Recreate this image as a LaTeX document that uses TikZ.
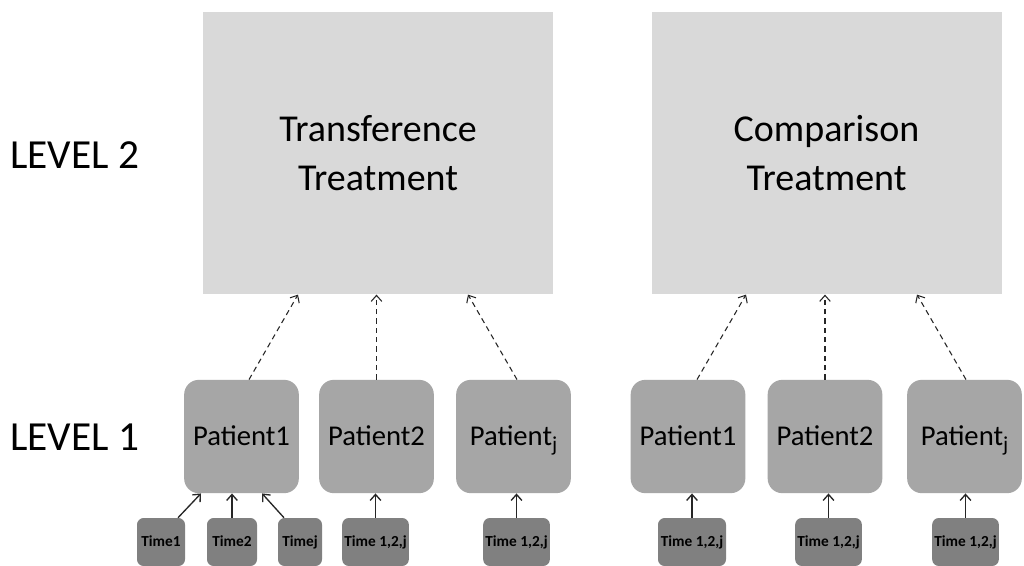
\documentclass[tikz,border=0pt]{standalone}
\usepackage{fontspec}
\setmainfont{Carlito}
\usetikzlibrary{arrows.meta}
\newcommand{\subj}{\raisebox{-0.45ex}{\fontsize{16}{18}\selectfont j}}
\begin{document}
\begin{tikzpicture}[x=0.75pt,y=-0.75pt,
  bigbox/.style={fill=black!15,draw=none,minimum width=262.5pt,minimum height=212pt,inner sep=0pt,align=center,font=\fontsize{28.5}{37}\selectfont},
  patbox/.style={fill=black!35,draw=none,rounded corners=11pt,minimum width=86pt,minimum height=85pt,inner sep=0pt,text height=14pt,text depth=1pt,font=\fontsize{21.5}{24}\selectfont},
  timebox/.style={fill=black!50,draw=none,rounded corners=5pt,minimum height=36pt,inner sep=0pt,text height=8pt,text depth=2pt,font=\bfseries\fontsize{11.5}{13}\selectfont},
  lvl/.style={font=\fontsize{31}{36}\selectfont,anchor=west,inner sep=0pt},
  solidarr/.style={-{Straight Barb[length=4.5pt,width=8pt]},line width=1pt,black!85},
  dasharr/.style={-{Straight Barb[length=4.5pt,width=8pt]},line width=0.8pt,dash pattern=on 4pt off 3pt,black!85}]
\useasboundingbox (0,0) rectangle (1024,565);
\fill[white] (0,0) rectangle (1024,565);
\node[lvl] (l2) at (10,155) {LEVEL 2};
\node[lvl] (l1) at (10,437) {LEVEL 1};
\node[bigbox] (tt) at (378,153) {Transference\\Treatment};
\node[bigbox] (ct) at (826.5,153) {Comparison\\Treatment};
% patients
\node[patbox] (p1) at (241.5,436.5) {Patient1};
\node[patbox] (p2) at (376.5,436.5) {Patient2};
\node[patbox] (pj) at (513.5,436.5) {Patient\subj};
\node[patbox] (q1) at (688,436.5) {Patient1};
\node[patbox] (q2) at (825,436.5) {Patient2};
\node[patbox] (qj) at (964.5,436.5) {Patient\subj};
% times
\node[timebox,minimum width=36pt] (t1) at (161,542) {Time1};
\node[timebox,minimum width=37.5pt] (t2) at (232,542) {Time2};
\node[timebox,minimum width=33pt] (tj) at (300,542) {Timej};
\node[timebox,minimum width=50pt] (s2) at (375.5,542) {Time 1,2,j};
\node[timebox,minimum width=50pt] (sj) at (516.5,542) {Time 1,2,j};
\node[timebox,minimum width=51pt] (u1) at (692,542) {Time 1,2,j};
\node[timebox,minimum width=50pt] (u2) at (828.5,542) {Time 1,2,j};
\node[timebox,minimum width=50pt] (uj) at (965.5,542) {Time 1,2,j};
% solid arrows
\draw[solidarr] (t1.north -| 178,0) -- (p1.south -| 201,0);
\draw[solidarr] (t2.north) -- (p2.south -| t2.north);
\draw[solidarr] (tj.north -| 284,0) -- (p1.south -| 262,0);
\draw[solidarr] (s2.north) -- (s2.north |- p2.south);
\draw[solidarr] (sj.north) -- (sj.north |- pj.south);
\draw[solidarr] (u1.north) -- (u1.north |- q1.south);
\draw[solidarr] (u2.north) -- (u2.north |- q2.south);
\draw[solidarr] (uj.north) -- (uj.north |- qj.south);
% dashed arrows
\draw[dasharr] (p1.north -| 249,0) -- (tt.south -| 298,0);
\draw[dasharr] (p2.north) -- (tt.south -| p2.north);
\draw[dasharr] (pj.north -| 517,0) -- (tt.south -| 468,0);
\draw[dasharr] (q1.north -| 697,0) -- (ct.south -| 746,0);
\draw[dasharr] (q2.north) -- (ct.south -| q2.north);
\draw[dasharr] (qj.north -| 966,0) -- (ct.south -| 917,0);
\end{tikzpicture}
\end{document}
